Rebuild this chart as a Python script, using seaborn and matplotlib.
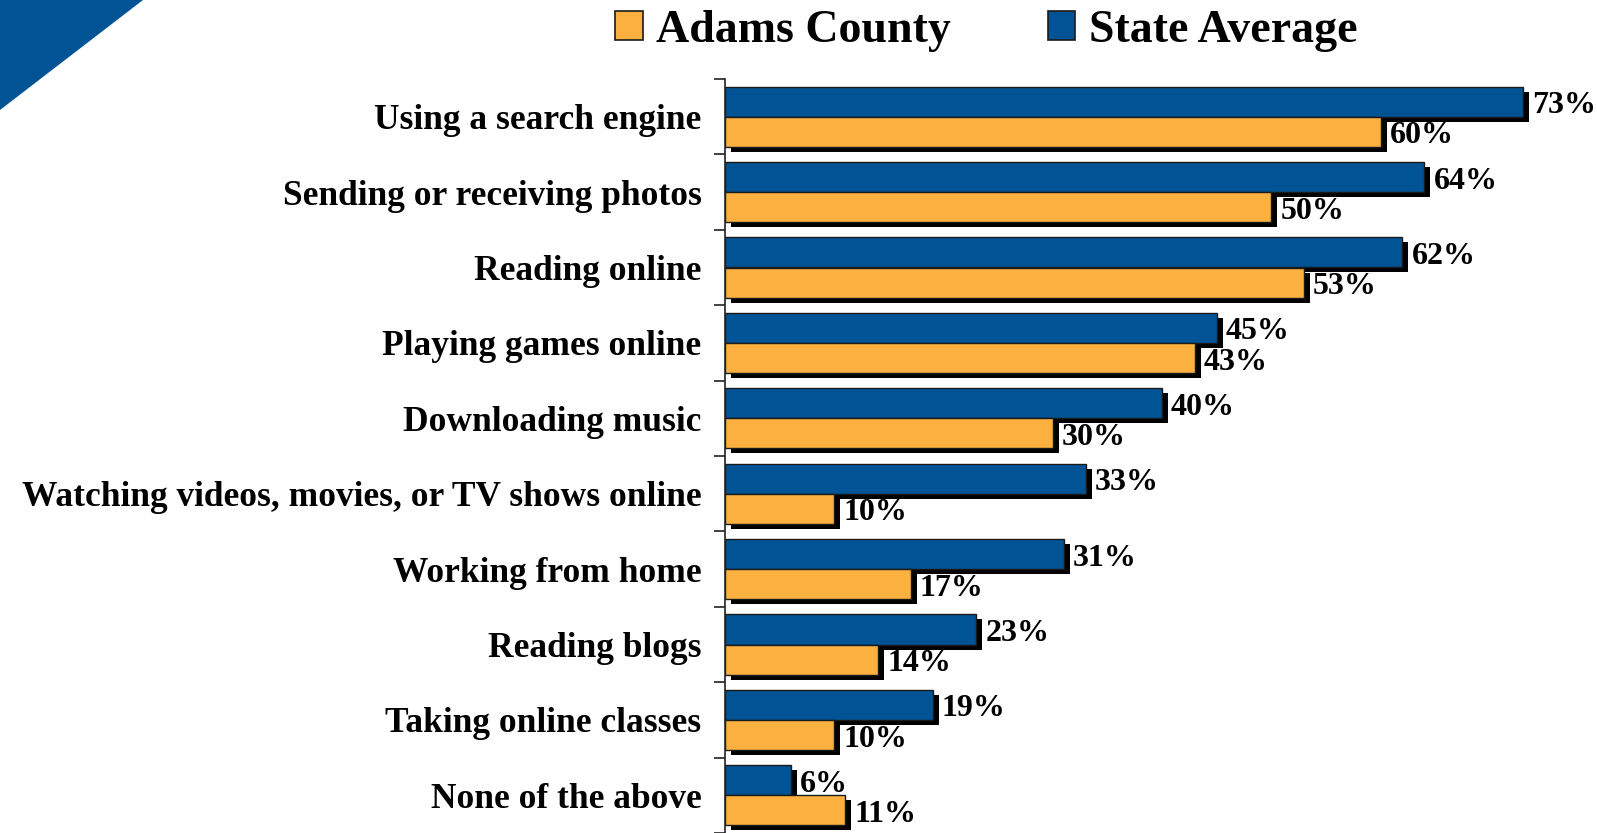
import numpy as np
import pandas as pd
import matplotlib
matplotlib.use("Agg")
import matplotlib.pyplot as plt
import matplotlib.patheffects as pe
from matplotlib.patches import Patch, Polygon
import seaborn as sns

categories = ["Using a search engine", "Sending or receiving photos", "Reading online",
              "Playing games online", "Downloading music",
              "Watching videos, movies, or TV shows online", "Working from home",
              "Reading blogs", "Taking online classes", "None of the above"]
state_avg = [73, 64, 62, 45, 40, 33, 31, 23, 19, 6]
adams = [60, 50, 53, 43, 30, 10, 17, 14, 10, 11]
series = ["State Average", "Adams County"]

BLUE = "#005496"
ORANGE = "#FBB040"

df = pd.DataFrame({
    "activity": categories * 2,
    "pct": state_avg + adams,
    "who": [series[0]] * len(categories) + [series[1]] * len(categories),
})

sns.set_style("white")
plt.rcParams['font.family'] = ['Liberation Serif', 'DejaVu Serif']
plt.rcParams['font.weight'] = 'bold'
plt.rcParams['text.color'] = 'black'
plt.rcParams['ytick.color'] = 'black'

fig = plt.figure(figsize=(15.97, 8.33), dpi=100)
ax = fig.add_axes([725 / 1597, 0.0, 1 - 725 / 1597, 1 - 79 / 833])

sns.barplot(data=df, x="pct", y="activity", hue="who", hue_order=series,
            palette=[BLUE, ORANGE], order=categories, width=0.8,
            edgecolor="#1a1a1a", linewidth=1.0, saturation=1, legend=False, ax=ax)

shadow = [pe.SimplePatchShadow(offset=(4.3, -3.6), shadow_rgbFace="black", alpha=1.0), pe.Normal()]
for bar in ax.patches:
    bar.set_path_effects(shadow)

for cont, vals in zip(ax.containers, [state_avg, adams]):
    anns = ax.bar_label(cont, labels=[f"{v}%" for v in vals], padding=6.5,
                        fontsize=23, fontweight="bold", color="black")
    for a in anns:
        a.xyann = (6.5, -3)

ax.set_xlim(0, 79.8)
ax.set_ylim(len(categories) - 0.5, -0.5)
ax.set_xlabel("")
ax.set_ylabel("")
ax.set_xticks([])
ax.set_yticks(range(len(categories)))
ax.set_yticklabels(categories, fontsize=25.5, fontweight="bold", color="black")
ax.set_yticks(np.arange(-0.5, len(categories), 1), minor=True)
ax.tick_params(axis="y", which="major", length=0, pad=17)
ax.tick_params(axis="y", which="minor", length=8, width=1.2, color="#222222", direction="out", left=True)
for s in ["top", "right", "bottom"]:
    ax.spines[s].set_visible(False)
ax.spines["left"].set_color("#222222")
ax.spines["left"].set_linewidth(1.2)
ax.patch.set_alpha(0)

# blue corner decoration
fig.patches.append(Polygon([(0, 1), (143 / 1597, 1), (0, 1 - 110 / 833)], closed=True,
                           transform=fig.transFigure, facecolor=BLUE, edgecolor="none"))

handles = [Patch(facecolor=ORANGE, edgecolor="#1a1a1a", linewidth=1.2),
           Patch(facecolor=BLUE, edgecolor="#1a1a1a", linewidth=1.2)]
fig.legend(handles, ["Adams County", "State Average"], loc="upper left",
           bbox_to_anchor=(574 / 1597, 1.038), ncol=2, frameon=False,
           prop={"size": 33, "weight": "bold"}, handlelength=0.6, handleheight=0.6,
           handletextpad=0.3, columnspacing=2.1)

fig.savefig("out.png", dpi=100)
